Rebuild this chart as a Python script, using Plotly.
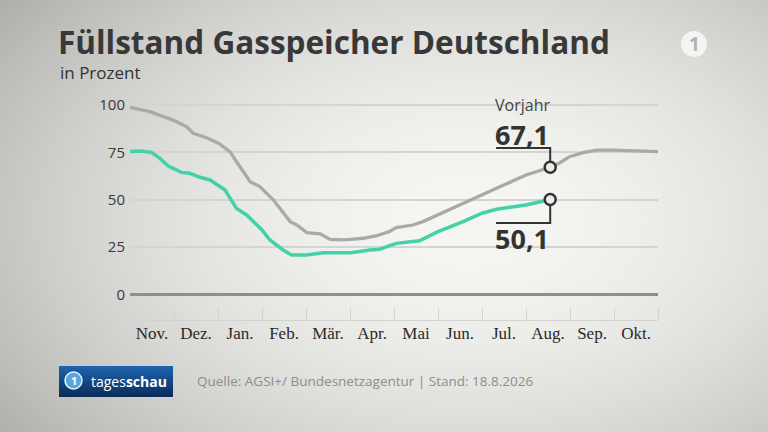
import base64
import struct
import zlib

import numpy as np
import plotly.graph_objects as go

# Monate ab 1. November (0 = Nov. 1, 12 = Ende Okt.)
monate = ["Nov.", "Dez.", "Jan.", "Feb.", "Mär.", "Apr.", "Mai", "Jun.", "Jul.", "Aug.", "Sep.", "Okt."]

vorjahr_x = [0.00, 0.45, 0.98, 1.29, 1.44, 1.74, 2.01, 2.27, 2.50, 2.73, 2.95, 3.26, 3.64, 3.79,
             4.02, 4.32, 4.55, 4.85, 5.02, 5.30, 5.59, 5.89, 6.05, 6.43, 6.66, 7.00, 7.57, 8.00,
             8.33, 9.00, 9.55, 9.77, 9.99, 10.30, 10.60, 11.00, 11.58, 12.00]
vorjahr_y = [98.8, 96.5, 92.0, 88.5, 85.0, 82.7, 79.8, 75.4, 67.4, 59.5, 56.9, 49.8, 38.4, 36.6,
             32.6, 31.9, 29.0, 28.7, 29.0, 29.6, 30.8, 33.1, 35.2, 36.6, 38.4, 41.9, 48.0, 52.5,
             56.0, 63.0, 67.1, 69.5, 72.7, 74.8, 76.2, 76.2, 75.7, 75.4]

aktuell_x = [0.00, 0.23, 0.49, 0.68, 0.87, 0.98, 1.17, 1.36, 1.59, 1.82, 2.01, 2.16, 2.42, 2.65,
             3.00, 3.18, 3.48, 3.67, 4.01, 4.39, 5.01, 5.14, 5.45, 5.67, 5.89, 6.05, 6.58, 7.00,
             7.57, 8.00, 8.33, 9.00, 9.55]
aktuell_y = [75.4, 75.7, 75.0, 71.8, 67.8, 66.5, 64.4, 63.9, 61.8, 60.4, 57.7, 55.1, 45.4, 41.9,
             34.0, 28.7, 23.4, 20.8, 20.8, 22.0, 22.0, 22.5, 23.4, 23.8, 25.5, 26.9, 28.3, 33.1,
             38.4, 42.8, 44.9, 47.2, 50.1]

y_ticks = [0, 25, 50, 75, 100]

W, H = 768, 432
L, R, T, B = 130, 110, 100, 112
PW, PH = W - L - R, H - T - B


def px(x):
    return (x - L) / PW


def py(y):
    return 1 - (y - T) / PH


def png_uri(arr):
    h, w, _ = arr.shape
    raw = b"".join(b"\x00" + row.tobytes() for row in arr)

    def chunk(tag, data):
        return struct.pack(">I", len(data)) + tag + data + struct.pack(">I", zlib.crc32(tag + data) & 0xffffffff)

    png = (b"\x89PNG\r\n\x1a\n"
           + chunk(b"IHDR", struct.pack(">IIBBBBB", w, h, 8, 2, 0, 0, 0))
           + chunk(b"IDAT", zlib.compress(raw, 9))
           + chunk(b"IEND", b""))
    return "data:image/png;base64," + base64.b64encode(png).decode()


# grauer Hintergrund mit hellem Zentrum
gx, gy = np.meshgrid(np.arange(W), np.arange(H))
d = np.sqrt(((gx - 470) / 540) ** 2 + ((gy - 220) / 340) ** 2)
v = np.clip(246 - 62 * d ** 1.8, 160, 246)
bg = np.stack([v, v, v - 4], axis=-1).astype(np.uint8)

# Logo-Kasten mit Verlauf
lw, lh = 114, 31
ly = np.linspace(0, 1, lh)[:, None] * np.ones((1, lw))
lr = 30 - 20 * ly
lg = 100 - 55 * ly
lb = 175 - 85 * ly
logo = np.stack([lr, lg, lb], axis=-1).astype(np.uint8)

fig = go.Figure()

fig.add_trace(go.Scatter(x=vorjahr_x, y=vorjahr_y, mode="lines",
                         line=dict(color="#a9a9a8", width=3.3), hoverinfo="skip"))
fig.add_trace(go.Scatter(x=aktuell_x, y=aktuell_y, mode="lines",
                         line=dict(color="#43d1a8", width=3.5), hoverinfo="skip"))

stand_x = aktuell_x[-1]
stand_y = aktuell_y[-1]
vj_idx = vorjahr_x.index(stand_x)
vj_y = vorjahr_y[vj_idx]

# Klammern zu den Werten
for y0, y1 in [(vj_y + 2.4, vj_y + 10.2), (stand_y - 2.4, stand_y - 12.4)]:
    fig.add_shape(type="path", xref="x", yref="y",
                  path=f"M {stand_x} {y0} L {stand_x} {y1} L {stand_x - 1.23} {y1}",
                  line=dict(color="#333333", width=2))

fig.add_trace(go.Scatter(x=[stand_x, stand_x], y=[vj_y, stand_y], mode="markers",
                         marker=dict(size=11, color="#ececea", line=dict(color="#333333", width=2.5)),
                         hoverinfo="skip"))

fig.add_annotation(x=stand_x - 0.62, y=99.8, text="Vorjahr", showarrow=False,
                   font=dict(family="Open Sans", size=16, color="#444444"))
fig.add_annotation(x=stand_x - 0.64, y=84.6, text=f"{vj_y:.1f}".replace(".", ","), showarrow=False,
                   font=dict(family="Open Sans", size=27, color="#333333", weight="bold"))
fig.add_annotation(x=stand_x - 0.64, y=29.7, text=f"{stand_y:.1f}".replace(".", ","), showarrow=False,
                   font=dict(family="Open Sans", size=27, color="#333333", weight="bold"))

# Titel
fig.add_annotation(xref="paper", yref="paper", x=px(56), y=py(41), xanchor="left", yanchor="middle",
                   text="<b>Füllstand Gasspeicher Deutschland</b>", showarrow=False,
                   font=dict(family="Open Sans", size=31.5, color="#383838"))
fig.add_annotation(xref="paper", yref="paper", x=px(58), y=py(73), xanchor="left", yanchor="middle",
                   text="in Prozent", showarrow=False,
                   font=dict(family="Open Sans", size=17, color="#333333"))

# Fußzeile
fig.add_annotation(xref="paper", yref="paper", x=px(195), y=py(381), xanchor="left", yanchor="middle",
                   text="Quelle: AGSI+/ Bundesnetzagentur | Stand: 18.8.2026", showarrow=False,
                   font=dict(family="Open Sans", size=13.5, color="#8e8e8c"))
fig.add_annotation(xref="paper", yref="paper", x=px(89), y=py(381), xanchor="left", yanchor="middle",
                   text="tages<b>schau</b>", showarrow=False,
                   font=dict(family="Open Sans", size=14, color="#ffffff"))
fig.add_shape(type="circle", xref="paper", yref="paper",
              x0=px(65), x1=px(82), y0=py(372), y1=py(389),
              fillcolor="#5aa6de", line=dict(color="#e8f4ff", width=1.5))
fig.add_annotation(xref="paper", yref="paper", x=px(73.5), y=py(380.5), text="<b>1</b>", showarrow=False,
                   xanchor="center", yanchor="middle",
                   font=dict(family="Open Sans", size=11, color="#ffffff"))

# ARD-Logo
fig.add_shape(type="circle", xref="paper", yref="paper",
              x0=px(681), x1=px(707), y0=py(31), y1=py(57),
              fillcolor="#f4f4f2", line=dict(width=0))
fig.add_annotation(xref="paper", yref="paper", x=px(694), y=py(44), text="<b>1</b>", showarrow=False,
                   xanchor="center", yanchor="middle",
                   font=dict(family="Open Sans", size=19, color="#b3b3b0"))

fig.update_layout(
    width=W, height=H,
    margin=dict(l=L, r=R, t=T, b=B),
    paper_bgcolor="rgba(0,0,0,0)",
    plot_bgcolor="rgba(0,0,0,0)",
    showlegend=False,
    images=[
        dict(source=png_uri(bg), xref="paper", yref="paper", x=px(0), y=py(0),
             sizex=W / PW, sizey=H / PH, sizing="stretch", layer="below"),
        dict(source=png_uri(logo), xref="paper", yref="paper", x=px(59), y=py(366),
             sizex=lw / PW, sizey=lh / PH, sizing="stretch", layer="below"),
    ],
    xaxis=dict(
        range=[0, 12], showgrid=False, zeroline=False,
        tickvals=[i + 0.5 for i in range(12)], ticktext=monate, ticks="",
        tickfont=dict(family="Liberation Serif", size=17, color="#2a2a2a"),
        ticklabelstandoff=-2,
        showline=True, linecolor="#d2d2d0", linewidth=1,
        minor=dict(tickvals=list(range(13)), ticks="inside", ticklen=12,
                   tickcolor="#d2d2d0", tickwidth=1.2, showgrid=False),
    ),
    yaxis=dict(
        range=[-13.58, 102.64], tickvals=y_ticks, ticks="",
        showgrid=True, gridcolor="#d4d4d2", gridwidth=1.5,
        zeroline=True, zerolinecolor="#8e8e8c", zerolinewidth=2.5,
        tickfont=dict(family="Open Sans", size=15, color="#3a3a3a"),
        ticklabelstandoff=4,
    ),
)

fig.write_html("out.html", config={"displayModeBar": False},
               post_script="document.body.style.margin='0';document.body.style.overflow='hidden';")
